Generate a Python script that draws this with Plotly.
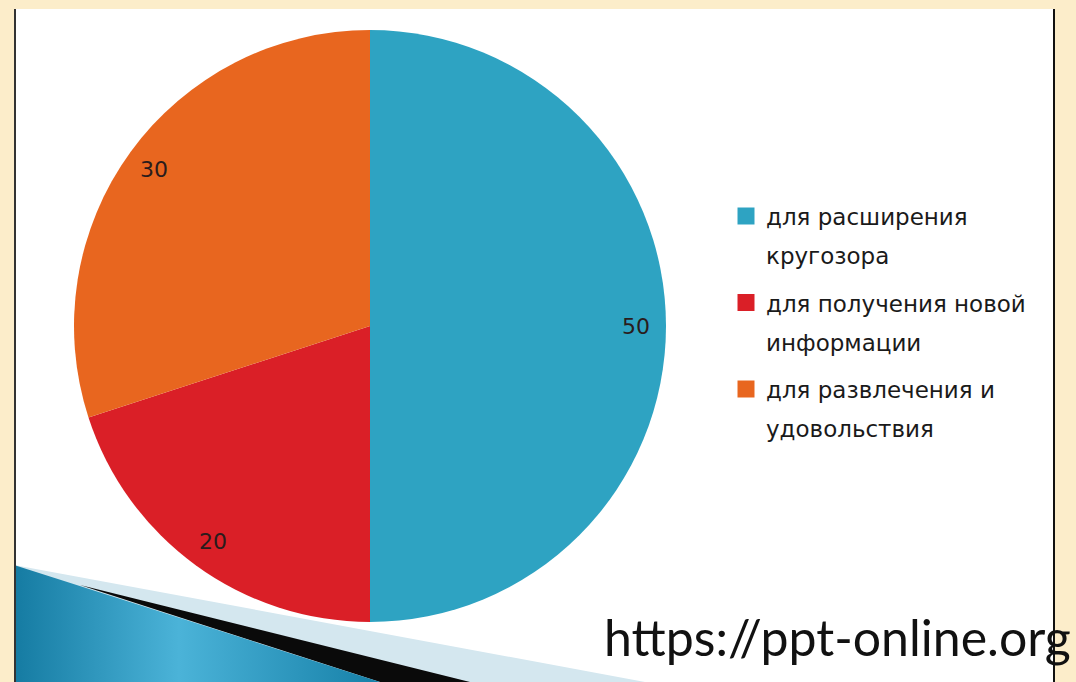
import math
import plotly.graph_objects as go

# ---- data ----
categories = ["для расширения кругозора", "для получения новой информации", "для развлечения и удовольствия"]
legend_lines = [["для расширения", "кругозора"], ["для получения новой", "информации"], ["для развлечения и", "удовольствия"]]
values = [50, 20, 30]
colors = ["#2EA3C2", "#DA1F27", "#E8661F"]
watermark = "https://ppt-online.org"

W, H = 1076, 682
CX, CY, R = 370, 326, 296

fig = go.Figure()

# decorative gradient wedge (bottom-left)
fig.add_trace(go.Scatter(
    x=[14, 380, 14, 14], y=[565, 682, 682, 565],
    mode="lines", line=dict(width=0), fill="toself",
    fillgradient=dict(type="horizontal",
                      colorscale=[[0, "#157BA2"], [0.45, "#4BB3D8"], [1, "#1680A8"]]),
    hoverinfo="skip", showlegend=False, xaxis="x", yaxis="y"))

# pie
fig.add_trace(go.Pie(
    labels=categories, values=values, sort=False, direction="clockwise", rotation=0,
    marker=dict(colors=colors, line=dict(width=0)), textinfo="none",
    hoverinfo="label+value", showlegend=False,
    domain=dict(x=[(CX - R) / W, (CX + R) / W], y=[(H - CY - R) / H, (H - CY + R) / H])))

shapes = [
    dict(type="rect", xref="x", yref="y", x0=14, x1=1055, y0=9, y1=682,
         fillcolor="white", line=dict(width=0), layer="below"),
    dict(type="path", xref="x", yref="y", path="M 14 565 L 645 682 L 14 682 Z",
         fillcolor="#D4E7EF", line=dict(width=0), layer="below"),
    dict(type="path", xref="x", yref="y", path="M 80 585 L 470 682 L 380 682 Z",
         fillcolor="#0A0A0A", line=dict(width=0), layer="below"),
    dict(type="line", xref="x", yref="y", x0=15, x1=15, y0=9, y1=682,
         line=dict(color="#333333", width=2)),
    dict(type="line", xref="x", yref="y", x0=1054, x1=1054, y0=9, y1=682,
         line=dict(color="#111111", width=2)),
]

annotations = []
# value labels placed from slice angles
cum = 0
total = sum(values)
for v in values:
    a = (cum + v / 2) / total * 2 * math.pi
    cum += v
    annotations.append(dict(x=CX + 0.9 * R * math.sin(a), y=CY - 0.9 * R * math.cos(a),
                            xref="x", yref="y", text=str(v), showarrow=False,
                            font=dict(family="DejaVu Sans", size=22, color="#2A1C1C")))

# custom legend
leg_x, leg_y0, item_gap, line_gap = 746, 216, 86.5, 39
for i, (lines, c) in enumerate(zip(legend_lines, colors)):
    y = leg_y0 + i * item_gap
    shapes.append(dict(type="rect", xref="x", yref="y", x0=leg_x - 8.5, x1=leg_x + 8.5,
                       y0=y - 8.5, y1=y + 8.5, fillcolor=c, line=dict(width=0)))
    for j, t in enumerate(lines):
        annotations.append(dict(x=764, y=y + j * line_gap + 1, xref="x", yref="y", text=t,
                                xanchor="left", yanchor="middle", showarrow=False,
                                font=dict(family="DejaVu Sans", size=23, color="#1A1A1A")))

annotations.append(dict(x=602, y=637, xref="x", yref="y", text=watermark, xanchor="left",
                        yanchor="middle", showarrow=False,
                        font=dict(family="Lato", size=50, color="#111111")))

fig.update_layout(
    width=W, height=H, margin=dict(l=0, r=0, t=0, b=0),
    paper_bgcolor="#FCEDCA", plot_bgcolor="rgba(0,0,0,0)",
    xaxis=dict(range=[0, W], visible=False, domain=[0, 1], fixedrange=True),
    yaxis=dict(range=[H, 0], visible=False, domain=[0, 1], fixedrange=True),
    shapes=shapes, annotations=annotations, showlegend=False,
)

fig.write_html("out.html", config={"displayModeBar": False},
               post_script="document.body.style.margin='0';document.body.style.background='#FCEDCA';")
